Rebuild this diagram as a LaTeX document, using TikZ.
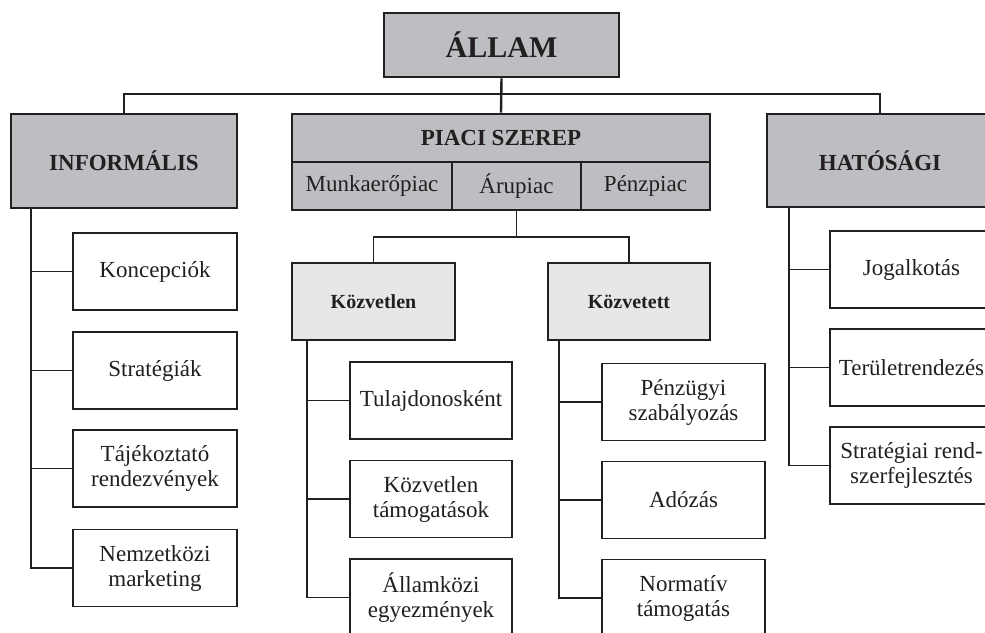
\documentclass[tikz,border=0pt]{standalone}
\usepackage{fontspec}
\setmainfont{Liberation Serif}
\definecolor{ink}{HTML}{231F20}
\definecolor{darkfill}{HTML}{BDBEC1}
\definecolor{lightfill}{HTML}{E6E7E8}
\begin{document}
\begin{tikzpicture}[x=1pt,y=-1pt,
  every node/.style={text=ink},
  topbox/.style={draw=ink, fill=darkfill, line width=2.6pt, inner sep=0pt, align=center,
    font=\fontsize{23}{26}\selectfont\bfseries},
  subbox/.style={draw=ink, fill=lightfill, line width=1.8pt, inner sep=0pt, align=center,
    minimum width=162pt, minimum height=77pt, font=\fontsize{20}{24}\selectfont\bfseries},
  leaf/.style={draw=ink, fill=white, line width=1.8pt, inner sep=0pt, align=center,
    minimum width=163pt, minimum height=77pt, font=\fontsize{23}{25}\selectfont},
  cell/.style={draw=ink, fill=darkfill, line width=2.6pt, inner sep=0pt, align=center,
    minimum height=48pt, font=\fontsize{23}{26}\selectfont},
  mainlink/.style={draw=ink, line width=2.4pt},
  link/.style={draw=ink, line width=1.7pt}]
\useasboundingbox (0,0) rectangle (985,632);
\clip (0,0) rectangle (985,632);

% top level
\node[topbox, minimum width=235pt, minimum height=64pt, font=\fontsize{30}{34}\selectfont\bfseries] (allam) at (501.5,45) {ÁLLAM};
\node[topbox, minimum width=226pt, minimum height=94pt] (inf) at (124,161) {INFORMÁLIS};
\node[topbox, minimum width=226pt, minimum height=93pt] (hat) at (880,160.5) {HATÓSÁGI};
\node[topbox, minimum width=418pt, minimum height=48pt] (piaci) at (501,138) {PIACI SZEREP};
\node[cell, minimum width=160pt] (munka) at (372,186) {Munkaerőpiac};
\node[cell, minimum width=129pt] (aru) at (516.5,186) {Árupiac};
\node[cell, minimum width=129pt] (penz) at (645.5,186) {Pénzpiac};

% top connectors
\coordinate (bar) at (501.5,94);
\draw[mainlink] (allam.south) -- (piaci.north);
\draw[mainlink] (inf.north) |- (bar) -| (hat.north);

% informális children
\node[leaf, minimum width=164pt] (i1) at (155,271.5) {Koncepciók};
\node[leaf, minimum width=164pt] (i2) at (155,370.5) {Stratégiák};
\node[leaf, minimum width=164pt] (i3) at (155,468.5) {Tájékoztató\\rendezvények};
\node[leaf, minimum width=164pt] (i4) at (155,568) {Nemzetközi\\marketing};
\coordinate (it) at (31,208);
\draw[link] (it) |- (i4.west);
\foreach \n in {i1,i2,i3} \draw[link] (it |- \n.west) -- (\n.west);

% piaci sub levels
\node[subbox, minimum width=163pt] (kvl) at (373.5,301.5) {Közvetlen};
\node[subbox] (kvt) at (629,301.5) {Közvetett};
\coordinate (mid) at (516.5,237);
\draw[link] (aru.south) -- (mid);
\draw[link] (kvl.north) |- (mid) -| (kvt.north);

\node[leaf, minimum width=162pt] (a1) at (431,400.5) {Tulajdonosként};
\node[leaf, minimum width=162pt] (a2) at (431,499) {Közvetlen\\támogatások};
\node[leaf, minimum width=162pt] (a3) at (431,597.5) {Államközi\\egyezmények};
\coordinate (at) at (307,340);
\draw[link] (at) |- (a3.west);
\foreach \n in {a1,a2} \draw[link] (at |- \n.west) -- (\n.west);

\node[leaf] (b1) at (683.5,402) {Pénzügyi\\szabályozás};
\node[leaf] (b2) at (683.5,500) {Adózás};
\node[leaf] (b3) at (683.5,598) {Normatív\\támogatás};
\coordinate (bt) at (559,340);
\draw[link] (bt) |- (b3.west);
\foreach \n in {b1,b2} \draw[link] (bt |- \n.west) -- (\n.west);

% hatósági children
\node[leaf] (h1) at (911.5,269.5) {Jogalkotás};
\node[leaf] (h2) at (911.5,367.5) {Területrendezés};
\node[leaf] (h3) at (911.5,465.5) {Stratégiai rend-\\szerfejlesztés};
\coordinate (ht) at (789,207);
\draw[link] (ht) |- (h3.west);
\foreach \n in {h1,h2} \draw[link] (ht |- \n.west) -- (\n.west);
\end{tikzpicture}
\end{document}
